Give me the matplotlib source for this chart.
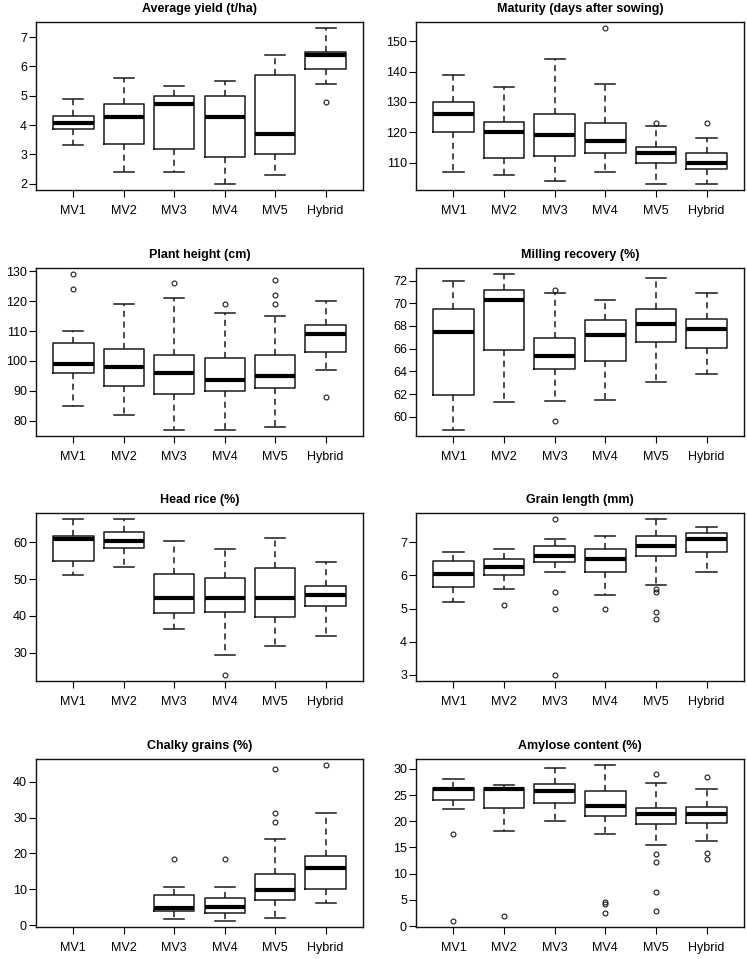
import matplotlib
matplotlib.use("Agg")
import matplotlib.pyplot as plt

plt.rcParams["font.family"] = ["Liberation Sans", "DejaVu Sans"]

varieties = ["MV1", "MV2", "MV3", "MV4", "MV5", "Hybrid"]

# box summaries per variety: (lower whisker, Q1, median, Q3, upper whisker)
yield_box = [(3.33, 3.86, 4.06, 4.32, 4.89), (2.41, 3.34, 4.28, 4.73, 5.59),
             (2.40, 3.20, 4.71, 5.00, 5.32), (2.00, 2.90, 4.29, 5.00, 5.50),
             (2.30, 3.00, 3.70, 5.70, 6.40), (5.40, 5.90, 6.40, 6.50, 7.30)]
yield_out = [[], [], [], [], [], [4.8]]
yield_ticks = [2, 3, 4, 5, 6, 7]

maturity_box = [(107, 120, 126, 130, 139), (106, 111.5, 120, 123.4, 135),
                (104, 112, 119, 126, 144), (107, 113, 117, 123, 136),
                (103, 110, 113, 115, 122), (103, 108, 110, 113, 118)]
maturity_out = [[], [], [], [154.3], [123], [123]]
maturity_ticks = [110, 120, 130, 140, 150]

height_box = [(85, 96, 99, 106, 110), (82, 91.5, 98, 104, 119),
              (77, 89, 96, 102, 121), (77, 90, 93.5, 101, 116),
              (78, 91, 95, 102, 115), (97, 103, 109, 112, 120)]
height_out = [[129, 124], [], [126], [119], [127, 122, 119], [88]]
height_ticks = [80, 90, 100, 110, 120, 130]

milling_box = [(58.85, 61.9, 67.47, 69.5, 72.0), (61.26, 65.85, 70.26, 71.2, 72.56),
               (61.4, 64.2, 65.35, 66.9, 70.9), (61.45, 64.9, 67.2, 68.5, 70.3),
               (63.05, 66.6, 68.2, 69.5, 72.2), (63.75, 66.1, 67.7, 68.6, 70.9)]
milling_out = [[], [], [71.15, 59.6], [], [], []]
milling_ticks = [60, 62, 64, 66, 68, 70, 72]

headrice_box = [(51.1, 55.0, 60.9, 61.7, 66.3), (53.3, 58.4, 60.4, 62.9, 66.3),
                (36.5, 40.9, 44.9, 51.5, 60.3), (29.5, 41.2, 44.8, 50.2, 58.3),
                (31.7, 39.8, 44.8, 53.1, 61.3), (34.5, 42.6, 45.8, 48.2, 54.6)]
headrice_out = [[], [], [], [24.0], [], []]
headrice_ticks = [30, 40, 50, 60]

length_box = [(5.19, 5.66, 6.05, 6.45, 6.70), (5.60, 6.00, 6.26, 6.50, 6.80),
              (6.10, 6.40, 6.60, 6.89, 7.10), (5.40, 6.10, 6.50, 6.80, 7.19),
              (5.70, 6.60, 6.90, 7.19, 7.70), (6.10, 6.70, 7.10, 7.29, 7.48)]
length_out = [[], [5.11], [7.7, 5.51, 5.0, 3.0], [5.0], [5.6, 5.5, 4.9, 4.7], []]
length_ticks = [3, 4, 5, 6, 7]

chalky_box = [None, None,
              (1.77, 3.8, 4.85, 8.3, 10.7), (1.2, 3.35, 5.1, 7.65, 10.7),
              (2.05, 6.9, 9.9, 14.35, 24.1), (6.25, 10.15, 15.9, 19.25, 31.4)]
chalky_out = [[], [], [18.45], [18.4], [43.6, 31.3, 28.7], [44.6]]
chalky_ticks = [0, 10, 20, 30, 40]

amylose_box = [(22.4, 24.05, 26.1, 26.4, 28.0), (18.05, 22.45, 26.1, 26.35, 26.85),
               (20.1, 23.55, 25.8, 27.05, 30.2), (17.6, 20.95, 23.0, 25.85, 30.7),
               (15.55, 19.5, 21.3, 22.6, 27.25), (16.3, 19.6, 21.45, 22.75, 26.1)]
amylose_out = [[17.6, 1.0], [1.85], [], [4.6, 4.2, 2.55],
               [29.05, 13.7, 12.25, 6.5, 2.9], [28.5, 14.0, 12.8]]
amylose_ticks = [0, 5, 10, 15, 20, 25, 30]

panels = [
    ("Average yield (t/ha)", yield_box, yield_out, yield_ticks),
    ("Maturity (days after sowing)", maturity_box, maturity_out, maturity_ticks),
    ("Plant height (cm)", height_box, height_out, height_ticks),
    ("Milling recovery (%)", milling_box, milling_out, milling_ticks),
    ("Head rice (%)", headrice_box, headrice_out, headrice_ticks),
    ("Grain length (mm)", length_box, length_out, length_ticks),
    ("Chalky grains (%)", chalky_box, chalky_out, chalky_ticks),
    ("Amylose content (%)", amylose_box, amylose_out, amylose_ticks),
]

fig = plt.figure(figsize=(7.47, 9.59), dpi=100)
col_left = [36 / 747, 416 / 747]
col_width = [327 / 747, 328 / 747]
row_bottom = [1 - 190 / 959, 1 - 436 / 959, 1 - 681 / 959, 1 - 927 / 959]
ax_height = 168 / 959

for i, (title, boxes, outs, ticks) in enumerate(panels):
    r, c = divmod(i, 2)
    ax = fig.add_axes([col_left[c], row_bottom[r], col_width[c], ax_height])

    stats, pos = [], []
    for k, b in enumerate(boxes):
        if b is None:
            continue
        lo, q1, med, q3, hi = b
        stats.append(dict(whislo=lo, q1=q1, med=med, q3=q3, whishi=hi,
                          fliers=outs[k]))
        pos.append(k + 1)

    ax.bxp(stats, positions=pos, widths=0.8, capwidths=0.4,
           boxprops=dict(color="#1a1a1a", lw=1.1),
           whiskerprops=dict(color="#1a1a1a", lw=1.1, linestyle=(0, (4, 3))),
           capprops=dict(color="#1a1a1a", lw=1.1),
           medianprops=dict(color="black", lw=3.0, solid_capstyle="butt"),
           flierprops=dict(marker="o", markerfacecolor="none",
                           markeredgecolor="#1a1a1a", markersize=3.5,
                           markeredgewidth=0.8))

    ax.margins(y=0.04)
    ax.autoscale_view()
    ax.set_xlim(0.26, 6.74)
    ax.set_xticks(range(1, 7), varieties)
    ax.set_yticks(ticks)
    ax.tick_params(axis="x", length=5, width=0.8, pad=6, labelsize=9)
    ax.tick_params(axis="y", length=5, width=0.8, pad=1.5, labelsize=9)
    for s in ax.spines.values():
        s.set_linewidth(1.0)
        s.set_color("#111111")
    ax.set_title(title, fontsize=9, fontweight="bold", pad=7)

fig.savefig("out.png", dpi=100)
